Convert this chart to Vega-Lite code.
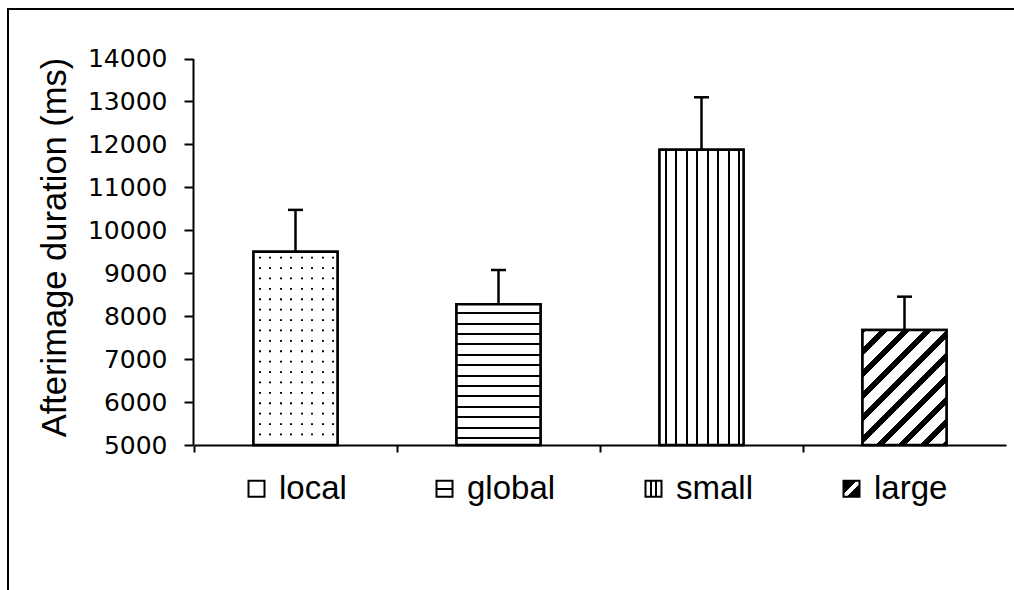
{
  "$schema": "https://vega.github.io/schema/vega-lite/v6.json",
  "width": 1008,
  "height": 583,
  "autosize": {"type": "none"},
  "padding": {"left": 8, "top": 9, "right": -2, "bottom": -2},
  "background": "white",
  "data": {"values": [
    {"cond": "local", "mean": 9500, "upper": 10475},
    {"cond": "global", "mean": 8280, "upper": 9075},
    {"cond": "small", "mean": 11875, "upper": 13097},
    {"cond": "large", "mean": 7680, "upper": 8454}
  ]},
  "encoding": {
    "x": {"field": "cond", "type": "nominal", "sort": ["local", "global", "small", "large"],
      "scale": {"range": [186, 998], "paddingInner": 0, "paddingOuter": 0},
      "axis": {"orient": "bottom", "offset": -147, "title": null, "labels": false, "bandPosition": 0,
        "domainColor": "black", "domainWidth": 2, "tickColor": "black", "tickWidth": 2, "tickSize": 7, "grid": false}},
    "y": {"field": "mean", "type": "quantitative",
      "scale": {"domain": [5000, 14000], "range": [436, 49.5], "zero": false, "nice": false},
      "axis": {"title": "Afterimage duration (ms)", "offset": -185, "values": [5000, 6000, 7000, 8000, 9000, 10000, 11000, 12000, 13000, 14000],
        "format": "d", "grid": false, "domainColor": "black", "domainWidth": 2, "tickColor": "black", "tickWidth": 2, "tickSize": 9,
        "labelFont": "DejaVu Sans", "labelFontSize": 25, "labelColor": "black", "labelPadding": 17,
        "titleFont": "Liberation Sans", "titleFontSize": 34.5, "titleFontWeight": "normal", "titleColor": "black",
        "titleX": -121, "titleY": 238, "titleBaseline": "bottom", "titleAngle": -90}}
  },
  "layer": [
    {
      "mark": {"type": "bar", "width": 84, "stroke": "black", "strokeWidth": 2.5, "opacity": 1},
      "encoding": {
        "y2": {"datum": 5000},
        "fill": {"field": "cond", "type": "nominal",
          "scale": {"domain": ["local", "global", "small", "large"], "range": [
            "white",
            {"expr": "{gradient: 'linear', x1: 0, y1: 0, x2: 0, y2: 1, stops: [{offset: 0, color: 'white'}, {offset: 0.43, color: 'white'}, {offset: 0.43, color: 'black'}, {offset: 0.57, color: 'black'}, {offset: 0.57, color: 'white'}, {offset: 1, color: 'white'}]}"},
            {"expr": "{gradient: 'linear', x1: 0, y1: 0, x2: 1, y2: 0, stops: [{offset: 0, color: 'white'}, {offset: 0.28, color: 'white'}, {offset: 0.28, color: 'black'}, {offset: 0.42, color: 'black'}, {offset: 0.42, color: 'white'}, {offset: 0.58, color: 'white'}, {offset: 0.58, color: 'black'}, {offset: 0.72, color: 'black'}, {offset: 0.72, color: 'white'}, {offset: 1, color: 'white'}]}"},
            {"expr": "{gradient: 'linear', x1: 0, y1: 0, x2: 1, y2: 1, stops: [{offset: 0, color: 'black'}, {offset: 0.4, color: 'black'}, {offset: 0.4, color: 'white'}, {offset: 0.6, color: 'white'}, {offset: 0.6, color: 'black'}, {offset: 1, color: 'black'}]}"}
          ]},
          "legend": {"title": null, "orient": "none", "legendX": 232, "legendY": 463, "direction": "horizontal",
            "symbolType": "square", "symbolSize": 256, "symbolStrokeColor": "black", "symbolStrokeWidth": 2, "symbolOpacity": 1,
            "labelFont": "Liberation Sans", "labelFontSize": 33, "labelColor": "black", "labelOffset": 6, "labelLimit": 400,
            "columnPadding": 81, "padding": 0}}
      }
    },
    {
      "transform": [{"filter": "datum.cond == 'local'"}],
      "mark": {"type": "bar", "width": 84, "fill": "white"},
      "encoding": {"y2": {"datum": 5000}}
    },
    {
      "transform": [{"filter": "datum.cond == 'global'"}],
      "mark": {"type": "bar", "width": 84, "fill": {"gradient": "linear", "x1": 0, "y1": 0, "x2": 0, "y2": 1, "stops": [
        {"offset": 0, "color": "white"},
        {"offset": 0.0566, "color": "white"}, {"offset": 0.0566, "color": "black"}, {"offset": 0.0708, "color": "black"}, {"offset": 0.0708, "color": "white"},
        {"offset": 0.1306, "color": "white"}, {"offset": 0.1306, "color": "black"}, {"offset": 0.1447, "color": "black"}, {"offset": 0.1447, "color": "white"},
        {"offset": 0.2045, "color": "white"}, {"offset": 0.2045, "color": "black"}, {"offset": 0.2187, "color": "black"}, {"offset": 0.2187, "color": "white"},
        {"offset": 0.2785, "color": "white"}, {"offset": 0.2785, "color": "black"}, {"offset": 0.2926, "color": "black"}, {"offset": 0.2926, "color": "white"},
        {"offset": 0.3524, "color": "white"}, {"offset": 0.3524, "color": "black"}, {"offset": 0.3666, "color": "black"}, {"offset": 0.3666, "color": "white"},
        {"offset": 0.4264, "color": "white"}, {"offset": 0.4264, "color": "black"}, {"offset": 0.4406, "color": "black"}, {"offset": 0.4406, "color": "white"},
        {"offset": 0.5004, "color": "white"}, {"offset": 0.5004, "color": "black"}, {"offset": 0.5145, "color": "black"}, {"offset": 0.5145, "color": "white"},
        {"offset": 0.5743, "color": "white"}, {"offset": 0.5743, "color": "black"}, {"offset": 0.5885, "color": "black"}, {"offset": 0.5885, "color": "white"},
        {"offset": 0.6483, "color": "white"}, {"offset": 0.6483, "color": "black"}, {"offset": 0.6624, "color": "black"}, {"offset": 0.6624, "color": "white"},
        {"offset": 0.7222, "color": "white"}, {"offset": 0.7222, "color": "black"}, {"offset": 0.7364, "color": "black"}, {"offset": 0.7364, "color": "white"},
        {"offset": 0.7962, "color": "white"}, {"offset": 0.7962, "color": "black"}, {"offset": 0.8103, "color": "black"}, {"offset": 0.8103, "color": "white"},
        {"offset": 0.8701, "color": "white"}, {"offset": 0.8701, "color": "black"}, {"offset": 0.8843, "color": "black"}, {"offset": 0.8843, "color": "white"},
        {"offset": 0.9441, "color": "white"}, {"offset": 0.9441, "color": "black"}, {"offset": 0.9582, "color": "black"}, {"offset": 0.9582, "color": "white"},
        {"offset": 1, "color": "white"}]}},
      "encoding": {"y2": {"datum": 5000}}
    },
    {
      "transform": [{"filter": "datum.cond == 'small'"}],
      "mark": {"type": "bar", "width": 84, "fill": {"gradient": "linear", "x1": 0, "y1": 0, "x2": 1, "y2": 0, "stops": [
        {"offset": 0, "color": "white"},
        {"offset": 0.0631, "color": "white"}, {"offset": 0.0631, "color": "black"}, {"offset": 0.0845, "color": "black"}, {"offset": 0.0845, "color": "white"},
        {"offset": 0.1881, "color": "white"}, {"offset": 0.1881, "color": "black"}, {"offset": 0.2095, "color": "black"}, {"offset": 0.2095, "color": "white"},
        {"offset": 0.3131, "color": "white"}, {"offset": 0.3131, "color": "black"}, {"offset": 0.3345, "color": "black"}, {"offset": 0.3345, "color": "white"},
        {"offset": 0.4381, "color": "white"}, {"offset": 0.4381, "color": "black"}, {"offset": 0.4595, "color": "black"}, {"offset": 0.4595, "color": "white"},
        {"offset": 0.5631, "color": "white"}, {"offset": 0.5631, "color": "black"}, {"offset": 0.5845, "color": "black"}, {"offset": 0.5845, "color": "white"},
        {"offset": 0.6881, "color": "white"}, {"offset": 0.6881, "color": "black"}, {"offset": 0.7095, "color": "black"}, {"offset": 0.7095, "color": "white"},
        {"offset": 0.8131, "color": "white"}, {"offset": 0.8131, "color": "black"}, {"offset": 0.8345, "color": "black"}, {"offset": 0.8345, "color": "white"},
        {"offset": 0.9381, "color": "white"}, {"offset": 0.9381, "color": "black"}, {"offset": 0.9595, "color": "black"}, {"offset": 0.9595, "color": "white"},
        {"offset": 1, "color": "white"}]}},
      "encoding": {"y2": {"datum": 5000}}
    },
    {
      "transform": [{"filter": "datum.cond == 'large'"}],
      "mark": {"type": "bar", "width": 84, "fill": {"gradient": "linear", "x1": 0, "y1": 0, "x2": 0.8238, "y2": 1.1287, "stops": [
        {"offset": 0, "color": "black"}, {"offset": 0.0221, "color": "black"}, {"offset": 0.0221, "color": "white"},
        {"offset": 0.0884, "color": "white"}, {"offset": 0.0884, "color": "black"}, {"offset": 0.1326, "color": "black"}, {"offset": 0.1326, "color": "white"},
        {"offset": 0.1989, "color": "white"}, {"offset": 0.1989, "color": "black"}, {"offset": 0.2431, "color": "black"}, {"offset": 0.2431, "color": "white"},
        {"offset": 0.3094, "color": "white"}, {"offset": 0.3094, "color": "black"}, {"offset": 0.3536, "color": "black"}, {"offset": 0.3536, "color": "white"},
        {"offset": 0.4199, "color": "white"}, {"offset": 0.4199, "color": "black"}, {"offset": 0.4641, "color": "black"}, {"offset": 0.4641, "color": "white"},
        {"offset": 0.5304, "color": "white"}, {"offset": 0.5304, "color": "black"}, {"offset": 0.5746, "color": "black"}, {"offset": 0.5746, "color": "white"},
        {"offset": 0.6409, "color": "white"}, {"offset": 0.6409, "color": "black"}, {"offset": 0.6851, "color": "black"}, {"offset": 0.6851, "color": "white"},
        {"offset": 0.7514, "color": "white"}, {"offset": 0.7514, "color": "black"}, {"offset": 0.7956, "color": "black"}, {"offset": 0.7956, "color": "white"},
        {"offset": 0.8619, "color": "white"}, {"offset": 0.8619, "color": "black"}, {"offset": 0.9061, "color": "black"}, {"offset": 0.9061, "color": "white"},
        {"offset": 0.9724, "color": "white"}, {"offset": 0.9724, "color": "black"}, {"offset": 1, "color": "black"}]}},
      "encoding": {"y2": {"datum": 5000}}
    },
    {
      "transform": [{"filter": "datum.cond == 'local'"}],
      "mark": {"type": "rule", "color": "black", "strokeWidth": 84, "strokeDash": [1.8, 8.6], "strokeDashOffset": 5.4},
      "encoding": {"y2": {"datum": 5000}}
    },
    {
      "transform": [{"filter": "datum.cond == 'local'"}],
      "mark": {"type": "bar", "width": 84, "fill": {"gradient": "linear", "x1": 0, "y1": 0, "x2": 1, "y2": 0, "stops": [
        {"offset": 0, "color": "white"},
        {"offset": 0.0631, "color": "white"}, {"offset": 0.0631, "color": "rgba(255,255,255,0)"}, {"offset": 0.0845, "color": "rgba(255,255,255,0)"}, {"offset": 0.0845, "color": "white"},
        {"offset": 0.1881, "color": "white"}, {"offset": 0.1881, "color": "rgba(255,255,255,0)"}, {"offset": 0.2095, "color": "rgba(255,255,255,0)"}, {"offset": 0.2095, "color": "white"},
        {"offset": 0.3131, "color": "white"}, {"offset": 0.3131, "color": "rgba(255,255,255,0)"}, {"offset": 0.3345, "color": "rgba(255,255,255,0)"}, {"offset": 0.3345, "color": "white"},
        {"offset": 0.4381, "color": "white"}, {"offset": 0.4381, "color": "rgba(255,255,255,0)"}, {"offset": 0.4595, "color": "rgba(255,255,255,0)"}, {"offset": 0.4595, "color": "white"},
        {"offset": 0.5631, "color": "white"}, {"offset": 0.5631, "color": "rgba(255,255,255,0)"}, {"offset": 0.5845, "color": "rgba(255,255,255,0)"}, {"offset": 0.5845, "color": "white"},
        {"offset": 0.6881, "color": "white"}, {"offset": 0.6881, "color": "rgba(255,255,255,0)"}, {"offset": 0.7095, "color": "rgba(255,255,255,0)"}, {"offset": 0.7095, "color": "white"},
        {"offset": 0.8131, "color": "white"}, {"offset": 0.8131, "color": "rgba(255,255,255,0)"}, {"offset": 0.8345, "color": "rgba(255,255,255,0)"}, {"offset": 0.8345, "color": "white"},
        {"offset": 0.9381, "color": "white"}, {"offset": 0.9381, "color": "rgba(255,255,255,0)"}, {"offset": 0.9595, "color": "rgba(255,255,255,0)"}, {"offset": 0.9595, "color": "white"},
        {"offset": 1, "color": "white"}]}},
      "encoding": {"y2": {"datum": 5000}}
    },
    {
      "mark": {"type": "bar", "width": 84, "fillOpacity": 0, "stroke": "black", "strokeWidth": 2.5},
      "encoding": {"y2": {"datum": 5000}}
    },
    {
      "mark": {"type": "rule", "color": "black", "strokeWidth": 2.5},
      "encoding": {"y2": {"field": "upper"}}
    },
    {
      "mark": {"type": "tick", "color": "black", "thickness": 2.5, "size": 15, "orient": "horizontal"},
      "encoding": {"y": {"field": "upper", "type": "quantitative"}}
    }
  ],
  "config": {
    "view": {"stroke": "black", "strokeWidth": 2},
    "tick": {"opacity": 1},
    "rule": {"opacity": 1}
  }
}
